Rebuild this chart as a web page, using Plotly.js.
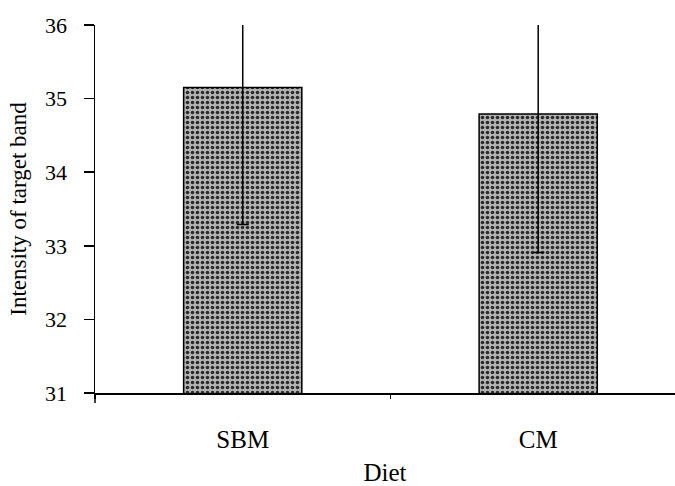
<!DOCTYPE html>
<html>
<head>
<meta charset="utf-8">
<script src="https://cdn.plot.ly/plotly-3.0.1.min.js"></script>
<style>html,body{margin:0;padding:0;background:#fff;}#chart{width:675px;height:486px;}</style>
</head>
<body>
<div id="chart"></div>
<script>
const categories = ["SBM", "CM"];
const intensity = [35.15, 34.79];
const errorSE = [1.86, 1.88];
const yTickVals = [31, 32, 33, 34, 35, 36];

const font = "'Liberation Serif', 'Times New Roman', serif";

const trace = {
  type: "bar",
  x: categories,
  y: intensity,
  width: 0.4,
  marker: {
    color: "#a8a8a8",
    line: {color: "#000", width: 1.5},
    pattern: {shape: ".", fgcolor: "#2a2a2a", bgcolor: "#b4b4b4", size: 5, solidity: 0.4}
  },
  error_y: {type: "data", array: errorSE, visible: true, color: "#000", thickness: 1.5, width: 6},
  hoverinfo: "none"
};

const layout = {
  width: 675, height: 486,
  margin: {l: 95, r: 0, t: 25, b: 93, pad: 0},
  paper_bgcolor: "#fff", plot_bgcolor: "#fff",
  showlegend: false,
  font: {family: font, color: "#000"},
  xaxis: {
    type: "category",
    range: [-0.5, 1.463],
    showline: true, linecolor: "#000", linewidth: 1.5,
    showgrid: false, zeroline: false,
    ticks: "outside", tickson: "boundaries", ticklen: 4, tickwidth: 1.5, tickcolor: "#000",
    tickfont: {family: font, size: 25, color: "#000"},
    ticklabelstandoff: 23,
    title: {text: "Diet", font: {family: font, size: 25, color: "#000"}, standoff: 16}
  },
  yaxis: {
    range: [31, 36],
    tickvals: yTickVals,
    showline: true, linecolor: "#000", linewidth: 1.5,
    showgrid: false, zeroline: false,
    ticks: "outside", ticklen: 10, tickwidth: 1.5, tickcolor: "#000",
    tickfont: {family: font, size: 22, color: "#000"},
    ticklabelstandoff: 12,
    title: {text: "Intensity of target band", font: {family: font, size: 23, color: "#000"}, standoff: 12}
  },
  shapes: [{
    type: "line", xref: "paper", yref: "paper",
    x0: 0, x1: 0, y0: 0, y1: -0.027,
    line: {color: "#000", width: 1.5}
  }]
};

Plotly.newPlot("chart", [trace], layout, {staticPlot: true, displayModeBar: false});
</script>
</body>
</html>
